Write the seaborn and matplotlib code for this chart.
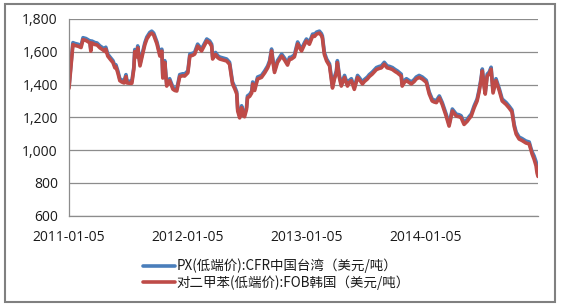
import matplotlib
matplotlib.use("Agg")
import matplotlib.pyplot as plt
from matplotlib.patches import Rectangle
from matplotlib.lines import Line2D
import numpy as np
import pandas as pd
import seaborn as sns

start_date = "2011-01-05"
day_offsets = [0,6,12,18,28,37,43,52,58,64,67,70,80,86,95,104,110,113,119,126,135,141,144,150,156,162,169,175,178,187,193,199,202,208,211,218,227,233,239,248,254,260,270,279,285,288,294,300,309,319,325,331,340,349,355,365,371,380,386,395,401,407,417,423,432,438,441,450,457,463,475,484,493,502,509,515,518,524,530,536,539,545,548,555,561,564,570,579,585,591,601,610,616,622,625,631,640,653,662,671,677,683,692,702,708,714,723,729,738,748,754,760,769,775,778,784,791,800,809,815,821,824,830,836,846,855,861,867,876,886,892,901,907,916,922,931,944,953,959,968,977,984,993,1002,1008,1020,1023,1030,1036,1045,1051,1060,1066,1075,1085,1097,1106,1115,1121,1128,1137,1146,1152,1158,1167,1177,1183,1189,1198,1204,1213,1223,1229,1235,1244,1253,1259,1265,1269,1274,1278,1284,1290,1296,1302,1311,1321,1330,1342,1351,1360,1367,1373,1382,1391,1403,1413,1419,1422,1428,1434,1437,1440]

px_cfr_taiwan = [1389,1526,1656,1651,1646,1638,1686,1681,1674,1666,1616,1666,1656,1654,1636,1624,1614,1628,1586,1568,1546,1514,1521,1483,1436,1428,1422,1461,1422,1420,1420,1506,1614,1581,1636,1526,1606,1656,1690,1718,1726,1714,1660,1586,1616,1452,1546,1403,1436,1384,1376,1373,1461,1466,1464,1484,1586,1591,1598,1647,1631,1617,1656,1678,1666,1646,1568,1596,1576,1568,1561,1556,1536,1416,1386,1355,1251,1209,1271,1221,1216,1261,1331,1341,1361,1416,1376,1446,1451,1456,1484,1514,1546,1617,1568,1486,1546,1586,1561,1531,1566,1568,1581,1660,1636,1617,1656,1678,1658,1708,1706,1720,1726,1711,1696,1596,1556,1526,1391,1446,1484,1546,1456,1403,1456,1403,1426,1436,1383,1456,1441,1416,1431,1446,1461,1476,1504,1511,1514,1536,1514,1511,1504,1491,1484,1464,1403,1426,1436,1424,1416,1431,1446,1456,1446,1426,1355,1312,1306,1302,1331,1291,1256,1220,1159,1251,1236,1220,1216,1210,1169,1189,1206,1220,1271,1312,1366,1436,1495,1406,1354,1464,1476,1506,1361,1436,1376,1312,1291,1270,1246,1156,1110,1080,1071,1056,1050,1007,990,965,930,900,880]

px_fob_korea = [1377,1514,1644,1639,1634,1626,1674,1669,1662,1654,1604,1654,1644,1642,1624,1612,1602,1616,1574,1556,1534,1502,1509,1471,1424,1416,1410,1449,1410,1408,1408,1494,1602,1569,1624,1514,1594,1644,1678,1706,1714,1702,1648,1574,1604,1440,1534,1391,1424,1372,1364,1361,1449,1454,1452,1472,1574,1579,1586,1635,1619,1605,1644,1666,1654,1634,1556,1584,1564,1556,1549,1544,1524,1404,1374,1343,1239,1197,1259,1209,1204,1249,1319,1329,1349,1404,1364,1434,1439,1444,1472,1502,1534,1605,1556,1474,1534,1574,1549,1519,1554,1556,1569,1648,1624,1605,1644,1666,1646,1696,1694,1708,1714,1699,1684,1584,1544,1514,1379,1434,1472,1534,1444,1391,1444,1391,1414,1424,1371,1444,1429,1404,1419,1434,1449,1464,1492,1499,1502,1524,1502,1499,1492,1479,1472,1452,1391,1414,1424,1412,1404,1419,1434,1444,1434,1414,1343,1300,1294,1290,1319,1279,1244,1208,1147,1239,1224,1208,1204,1198,1157,1177,1194,1208,1259,1300,1354,1424,1483,1394,1342,1452,1464,1494,1349,1424,1364,1300,1279,1258,1234,1144,1098,1068,1059,1044,1038,995,976,945,905,862,840]

series_names = ["PX(低端价):CFR中国台湾（美元/吨）", "对二甲苯(低端价):FOB韩国（美元/吨）"]
xtick_labels = ["2011-01-05", "2012-01-05", "2013-01-05", "2014-01-05"]
yticks = [600, 800, 1000, 1200, 1400, 1600, 1800]

assert len(day_offsets) == len(px_cfr_taiwan) == len(px_fob_korea)

dates = pd.Timestamp(start_date) + pd.to_timedelta(day_offsets, unit="D")
df = pd.DataFrame({"date": dates, series_names[0]: px_cfr_taiwan, series_names[1]: px_fob_korea})
long = df.melt(id_vars="date", var_name="series", value_name="value")

sns.set_style("white")
plt.rcParams["font.family"] = ["Open Sans", "Noto Sans CJK SC", "DejaVu Sans"]

fig = plt.figure(figsize=(5.61, 3.06), dpi=100)
ax = fig.add_axes([69/561, 1-215.8/306, (538-69)/561, (215.8-19)/306])

colors = {series_names[0]: "#4a7ebb", series_names[1]: "#be4b48"}
sns.lineplot(data=long, x="date", y="value", hue="series", palette=colors,
             linewidth=2.6, ax=ax, legend=False, estimator=None, sort=False)

ax.set_xlim(pd.Timestamp(start_date), dates[-1])
ax.set_ylim(600, 1800)
ax.set_yticks(yticks)
ax.set_yticklabels([f"{v:,}" for v in yticks])
ax.set_xticks([pd.Timestamp(t) for t in xtick_labels])
ax.set_xticklabels(xtick_labels)
ax.set_xlabel("")
ax.set_ylabel("")

ax.grid(axis="y", color="#8c8c8c", linewidth=0.9)
ax.grid(axis="x", visible=False)
ax.set_axisbelow(True)
for s in ["top", "right"]:
    ax.spines[s].set_visible(False)
for s in ["left", "bottom"]:
    ax.spines[s].set_color("#8c8c8c")
    ax.spines[s].set_linewidth(0.9)
ax.tick_params(axis="both", which="major", length=4, width=0.9, color="#8c8c8c",
               labelsize=10, labelcolor="#1a1a1a", direction="out")
ax.tick_params(axis="x", pad=6)
ax.tick_params(axis="y", pad=4)

handles = [Line2D([], [], color=colors[n], linewidth=2.6) for n in series_names]
fig.legend(handles, series_names, loc="upper left",
           bbox_to_anchor=(143/561, 1-258.5/306), frameon=False,
           prop={"family": ["Noto Sans CJK SC", "DejaVu Sans"], "size": 9.7},
           handlelength=2.4, handletextpad=0.1, labelspacing=0.15,
           borderpad=0, borderaxespad=0, labelcolor="#1a1a1a")

fig.patches.append(Rectangle((5/561, 1-301.5/306), (555-5)/561, (301.5-3.5)/306,
                             transform=fig.transFigure, fill=False,
                             edgecolor="#808080", linewidth=1.5))

fig.savefig("out.png", dpi=100)
